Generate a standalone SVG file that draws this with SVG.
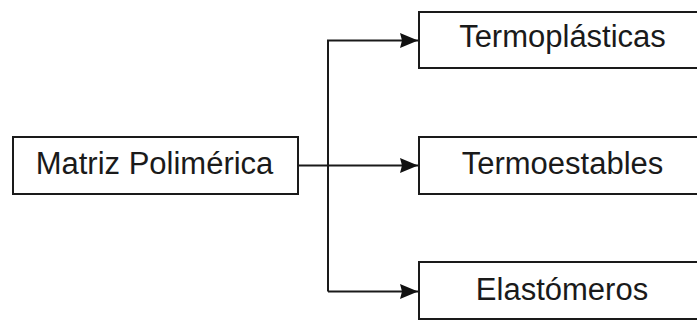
<svg xmlns="http://www.w3.org/2000/svg" width="697" height="321" viewBox="0 0 697 321">
<style>
.box{fill:#fff;stroke:#1a1a1a;stroke-width:2}
.lbl{font-family:"Liberation Sans",Arial,sans-serif;font-size:31px;fill:#1a1a1a;text-anchor:middle}
.edge{fill:none;stroke:#1a1a1a;stroke-width:2}
</style>
<defs>
<marker id="arr" markerUnits="userSpaceOnUse" markerWidth="20" markerHeight="18" refX="18" refY="9" orient="auto">
<path d="M0,1.5 L18,9 L0,16.5 L2,9 Z" fill="#111"/>
</marker>
</defs>
<rect width="697" height="321" fill="#fff"/>
<g id="connectors">
<path class="edge" d="M298,165.5 L418,165.5" marker-end="url(#arr)"/>
<path class="edge" d="M328,291.5 L328,40.5 L418,40.5" marker-end="url(#arr)"/>
<path class="edge" d="M328,291.5 L418,291.5" marker-end="url(#arr)"/>
</g>
<g id="matriz">
<rect class="box" x="13" y="137" width="285" height="57"/>
<text class="lbl" x="154.5" y="174">Matriz Polimérica</text>
</g>
<g id="termoplasticas">
<rect class="box" x="419" y="12" width="287" height="56"/>
<text class="lbl" x="562.5" y="47">Termoplásticas</text>
</g>
<g id="termoestables">
<rect class="box" x="419" y="137" width="287" height="57"/>
<text class="lbl" x="562.5" y="173.5">Termoestables</text>
</g>
<g id="elastomeros">
<rect class="box" x="419" y="262" width="287" height="57"/>
<text class="lbl" x="562" y="300">Elastómeros</text>
</g>
</svg>
